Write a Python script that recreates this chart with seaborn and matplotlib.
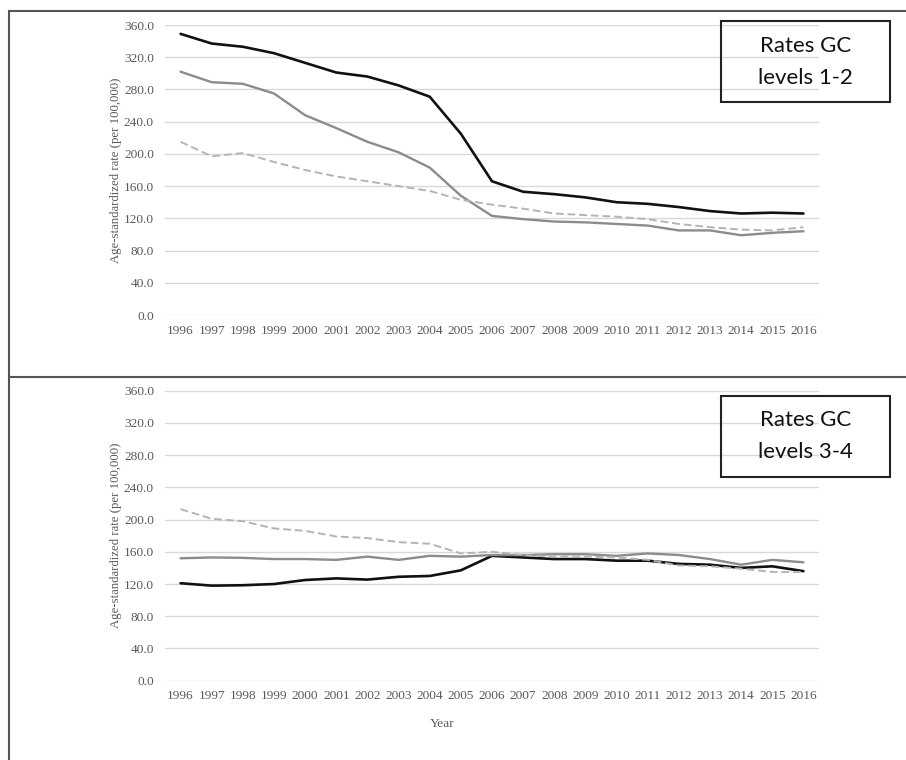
import pandas as pd
import matplotlib.pyplot as plt
import seaborn as sns
from matplotlib.lines import Line2D
from matplotlib.patches import Rectangle


# Values
YEARS = list(range(1996, 2017))

# Rates GC levels 1-2
TOP_BLACK = [349, 337, 333, 325, 313, 301, 296, 285, 271, 225, 166,
             153, 150, 146, 140, 138, 134, 129, 126, 127, 126]
TOP_GRAY = [302, 289, 287, 275, 248, 232, 215, 202, 183, 148, 123,
            119, 116, 115, 113, 111, 105, 105, 99, 102, 104]
TOP_DASHED = [215, 197, 201, 190, 180, 172, 166, 160, 154, 143, 137,
              132, 126, 124, 122, 119, 113, 109, 106, 105, 109]

# Rates GC levels 3-4
BOT_BLACK = [121, 118, 118.5, 120, 125, 127, 125.5, 129, 130, 137, 155,
             153, 151, 151, 149, 149, 145, 144, 140, 142, 136]
BOT_GRAY = [152, 153, 152.5, 151, 151, 150, 154, 150, 155, 154, 156,
            156, 157, 157, 155, 158, 156, 151, 144, 150, 147]
BOT_DASHED = [213, 201, 198, 189, 186, 179, 177, 172, 170, 158, 160,
              156, 154, 154, 153, 150, 143, 142, 139, 135, 135]

Y_TICKS = [0, 40, 80, 120, 160, 200, 240, 280, 320, 360]
BOX_LABELS = ["Rates GC\nlevels 1-2", "Rates GC\nlevels 3-4"]

SERIES = ["black", "gray", "dashed"]
PALETTE = {"black": "#111111", "gray": "#8c8c8c", "dashed": "#b4b4b4"}
DASHES = {"black": "", "gray": "", "dashed": (4, 2)}
WIDTHS = {"black": 1.9, "gray": 1.7, "dashed": 1.4}

TICK_COLOR = "#595959"
SERIF = ["Liberation Serif", "DejaVu Serif"]


def to_long(black, gray, dashed):
    frames = []
    for name, vals in zip(SERIES, [black, gray, dashed]):
        frames.append(pd.DataFrame({"year": YEARS, "rate": vals, "series": name}))
    return pd.concat(frames, ignore_index=True)


def draw_panel(ax, df):
    for name in SERIES:
        sub = df[df["series"] == name]
        sns.lineplot(data=sub, x="year", y="rate", ax=ax, color=PALETTE[name],
                     linewidth=WIDTHS[name], dashes=False, legend=False)
        if DASHES[name]:
            ax.lines[-1].set_dashes(DASHES[name])

    ax.set_xlim(YEARS[0] - 0.5, YEARS[-1] + 0.5)
    ax.set_ylim(0, 360)
    ax.set_yticks(Y_TICKS)
    ax.set_yticklabels([f"{v:.1f}" for v in Y_TICKS])
    ax.set_xticks(YEARS)
    ax.set_xticklabels([str(y) for y in YEARS])
    ax.grid(axis="y", color="#d9d9d9", linewidth=1.0)
    ax.grid(axis="x", visible=False)
    for s in ax.spines.values():
        s.set_visible(False)
    ax.tick_params(axis="both", length=0, colors=TICK_COLOR, labelsize=9.6)
    ax.tick_params(axis="y", pad=8)
    ax.tick_params(axis="x", pad=7)
    for lab in ax.get_xticklabels() + ax.get_yticklabels():
        lab.set_family(SERIF)
    ax.set_xlabel("")
    ax.set_ylabel("Age-standardized rate (per 100,000)", family=SERIF,
                  fontsize=9.2, color=TICK_COLOR, labelpad=1)
    for l in ax.get_lines():
        l.set_clip_on(False)


def main():
    sns.set_style("white")
    fig = plt.figure(figsize=(9.06, 7.6), dpi=100)
    W, H = 906, 760

    def fx(px):
        return px / W

    def fy(px):
        return 1 - px / H

    ax_top = fig.add_axes([fx(165), fy(315), fx(654), 290 / H])
    ax_bot = fig.add_axes([fx(165), fy(680.7), fx(654), 290 / H])

    draw_panel(ax_top, to_long(TOP_BLACK, TOP_GRAY, TOP_DASHED))
    draw_panel(ax_bot, to_long(BOT_BLACK, BOT_GRAY, BOT_DASHED))

    fig.text(fx(442), fy(724), "Year", family=SERIF, fontsize=9.6,
             color=TICK_COLOR, ha="center", va="center")

    # frame lines around the panels
    border = "#555555"
    fig.add_artist(Line2D([fx(9), fx(9)], [fy(11), fy(760)], color=border, lw=1.5))
    fig.add_artist(Line2D([fx(9), fx(906)], [fy(11), fy(11)], color=border, lw=1.5))
    fig.add_artist(Line2D([fx(9), fx(906)], [fy(377), fy(377)], color=border, lw=1.5))

    # label boxes
    for label, top_px in zip(BOX_LABELS, [21, 396]):
        rect = Rectangle((fx(721), fy(top_px + 81)), fx(169), 81 / H,
                         transform=fig.transFigure, fill=False,
                         edgecolor="#222222", linewidth=1.5)
        fig.add_artist(rect)
        fig.text(fx(805.5), fy(top_px + 40.5), label, family=["Lato", "DejaVu Sans"],
                 fontsize=16, ha="center", va="center", linespacing=1.75,
                 color="#111111")

    fig.savefig("out.png", dpi=100)
    plt.close(fig)


if __name__ == "__main__":
    main()
